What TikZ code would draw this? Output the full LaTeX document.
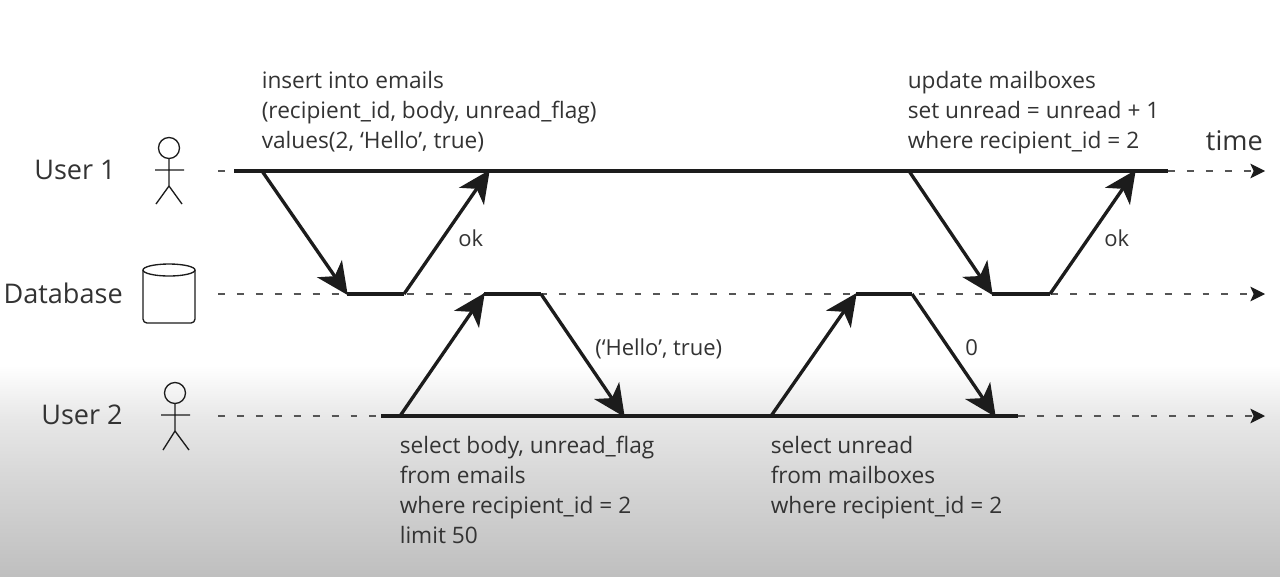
\documentclass[tikz,border=0pt]{standalone}
\usepackage{fontspec}
\setmainfont{Open Sans}
\usetikzlibrary{arrows.meta,calc}
\definecolor{ink}{HTML}{1C1C1C}
\definecolor{dashink}{HTML}{555555}
\definecolor{txt}{HTML}{333333}
\definecolor{fadea}{HTML}{E8E8E8}
\definecolor{fadeb}{HTML}{D8D8D8}
\definecolor{fadec}{HTML}{BFBFBF}
\pgfdeclareverticalshading{fadeshade}{100bp}{color(0bp)=(fadec); color(25bp)=(fadec); color(49.4bp)=(fadeb); color(62.7bp)=(fadea); color(75bp)=(white); color(100bp)=(white)}
\tikzset{
 x=0.75pt,y=-0.75pt,
 solidline/.style={draw=ink,line width=2.5pt},
 msg/.style={draw=ink,line width=2.5pt,-{Stealth[length=32*0.75pt,width=30*0.75pt,inset=9*0.75pt]},shorten >=-1pt},
 future/.style={draw=dashink,line width=0.9pt,dash pattern=on 5.2pt off 9pt,-{Stealth[length=11pt,width=11pt,inset=2.5pt,color=ink]}},
 past/.style={draw=dashink,line width=0.9pt,dash pattern=on 5.2pt off 9pt},
 actor/.style={draw=ink,line width=1pt},
 sql/.style={anchor=north west,inner sep=0pt,text=txt,font=\fontsize{17}{22.5}\selectfont,align=left},
 lane/.style={inner sep=0pt,text=txt,font=\fontsize{20.3}{24}\selectfont},
 lab/.style={inner sep=0pt,text=txt,font=\fontsize{16.5}{20}\selectfont},
}
\begin{document}
\begin{tikzpicture}
\useasboundingbox (0,0) rectangle (1280,576);
\fill[white] (0,0) rectangle (1280,365);
\shade[shading=fadeshade] (0,365) rectangle (1280,576);

% timeline anchors
\coordinate (u1s) at (218,171); \coordinate (u1a) at (234,171); \coordinate (u1b) at (1168,171); \coordinate (u1e) at (1265,171);
\coordinate (dbs) at (218,294); \coordinate (dbe) at (1265,294);
\coordinate (u2s) at (218,416); \coordinate (u2a) at (381,416); \coordinate (u2b) at (1018,416); \coordinate (u2e) at (1265,416);

\path[past] (u1s) -- (u1a);
\path[future] (u1b) -- (u1e);
\path[future] (dbs) -- (dbe);
\path[past] (u2s) -- (u2a);
\path[future] (u2b) -- (u2e);
\path[solidline] (u1a) -- (u1b);
\path[solidline] (u2a) -- (u2b);

% first write
\coordinate (a1) at (262,171); \coordinate (a2) at (347,294); \coordinate (a3) at (404,294); \coordinate (a4) at (489,171);
\path[msg] (a1) -- (a2);
\path[solidline] (a2) -- (a3);
\path[msg] (a3) -- (a4);
% second write
\coordinate (b1) at (909,171); \coordinate (b2) at (992,294); \coordinate (b3) at (1050,294); \coordinate (b4) at (1135,171);
\path[msg] (b1) -- (b2);
\path[solidline] (b2) -- (b3);
\path[msg] (b3) -- (b4);
% first read
\coordinate (c1) at (400,416); \coordinate (c2) at (484,294); \coordinate (c3) at (541,294); \coordinate (c4) at (624,416);
\path[msg] (c1) -- (c2);
\path[solidline] (c2) -- (c3);
\path[msg] (c3) -- (c4);
% second read
\coordinate (d1) at (771,416); \coordinate (d2) at (856,294); \coordinate (d3) at (912,294); \coordinate (d4) at (995,416);
\path[msg] (d1) -- (d2);
\path[solidline] (d2) -- (d3);
\path[msg] (d3) -- (d4);

% lane names
\node[lane,anchor=east] (nu1) at (116,170) {User 1};
\node[lane,anchor=east] (ndb) at (123,293) {Database};
\node[lane,anchor=east] (nu2) at (123,415) {User 2};
\node[lane,anchor=east] (ntime) at (1263,141) {time};

% actors
\draw[actor] (169,148) circle (10.5);
\draw[actor] (169,158.5) -- (169,186) (155,170) -- (184,170) (156,204) -- (169,186) -- (182,204);
\draw[actor] (175,393) circle (10.5);
\draw[actor] (175,403.5) -- (175,431) (161,415) -- (190,415) (163,450) -- (175,431) -- (189,450);

% database
\draw[actor,rounded corners=3pt] (143,270) -- (143,323) -- (195,323) -- (195,270);
\draw[actor] (169,270) ellipse (26 and 6);

% statements
\node[sql] (s1) at (261.5,71) {insert into emails\\(recipient\_id, body, unread\_flag)\\values(2, ‘Hello’, true)};
\node[sql] (s2) at (907.5,71) {update mailboxes\\set unread = unread + 1\\where recipient\_id = 2};
\node[sql] (s3) at (399.5,436) {select body, unread\_flag\\from emails\\where recipient\_id = 2\\limit 50};
\node[sql] (s4) at (770.5,436) {select unread\\from mailboxes\\where recipient\_id = 2};

% responses
\node[lab,anchor=west] (r1) at (458,238) {ok};
\node[lab,anchor=west] (r2) at (1104,238) {ok};
\node[lab,anchor=west] (r3) at (595,349) {(‘Hello’, true)};
\node[lab,anchor=west] (r4) at (965,348) {0};
\end{tikzpicture}
\end{document}
